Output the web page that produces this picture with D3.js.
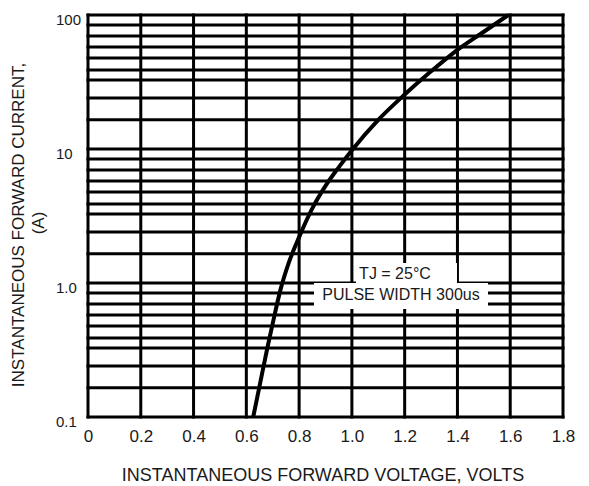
<!DOCTYPE html>
<html>
<head>
<meta charset="utf-8">
<script src="https://cdn.jsdelivr.net/npm/d3@7"></script>
<style>
  body { margin: 0; background: #fff; }
  text { font-family: "Liberation Sans", Arial, sans-serif; fill: #1a1a1a; }
</style>
</head>
<body>
<script>
// forward curve
var voltage = [0.626, 0.65, 0.68, 0.70, 0.73, 0.76, 0.80, 0.85, 0.90, 0.95, 1.00, 1.10, 1.20, 1.30, 1.40, 1.50, 1.593]
var current = [0.1, 0.17, 0.33, 0.5, 0.9, 1.4, 2.2, 3.6, 5.3, 7.3, 9.8, 16.5, 25.5, 38, 55, 75, 100]

var xTicks = [0, 0.2, 0.4, 0.6, 0.8, 1.0, 1.2, 1.4, 1.6, 1.8]
var xTickLabels = ['0', '0.2', '0.4', '0.6', '0.8', '1.0', '1.2', '1.4', '1.6', '1.8']
var yTicks = [0.1, 1, 10, 100]
var yTickLabels = ['0.1', '1.0', '10', '100']
// the grid in the sheet is not a true log grid, these are where its lines sit in each decade
var decadeGrid = [1.65, 2.4, 3.27, 3.89, 4.78, 5.77, 6.97, 8.42]

var W = 589, H = 486
var plot = { left: 88, right: 563, top: 15, bottom: 417 }

var svg = d3.select('body').append('svg')
	.attr('width', W)
	.attr('height', H)

var x = d3.scaleLinear().domain([0, 1.8]).range([plot.left, plot.right])
var y = d3.scaleLog().domain([0.1, 100]).range([plot.bottom, plot.top])

var hLines = []
yTicks.forEach(function(t){
	hLines.push(t)
	if(t < 100) decadeGrid.forEach(function(f){ hLines.push(t * f) })
})

var grid = svg.append('g').attr('class', 'grid')
grid.selectAll('.h').data(hLines).enter().append('line')
	.attr('x1', plot.left - 1.5).attr('x2', plot.right + 1.5)
	.attr('y1', function(d){ return y(d) })
	.attr('y2', function(d){ return y(d) })
	.attr('stroke', '#000')
	.attr('stroke-width', 3)
grid.selectAll('.v').data(xTicks).enter().append('line')
	.attr('x1', function(d){ return x(d) })
	.attr('x2', function(d){ return x(d) })
	.attr('y1', plot.top - 1.5).attr('y2', plot.bottom + 1.5)
	.attr('stroke', '#000')
	.attr('stroke-width', 3)

// note boxes knock the grid out
var notes = svg.append('g')
notes.append('rect')
	.attr('x', 356).attr('y', 263).attr('width', 101).attr('height', 21)
	.attr('fill', '#fff')
notes.append('rect')
	.attr('x', 314).attr('y', 283).attr('width', 174).attr('height', 26)
	.attr('fill', '#fff')
notes.append('text')
	.attr('x', 395).attr('y', 279)
	.attr('text-anchor', 'middle')
	.attr('font-size', 16)
	.text('TJ = 25°C')
notes.append('text')
	.attr('x', 401).attr('y', 300)
	.attr('text-anchor', 'middle')
	.attr('font-size', 16)
	.text('PULSE WIDTH 300us')

var pts = voltage.map(function(v, i){ return [v, current[i]] })
var line = d3.line()
	.x(function(d){ return x(d[0]) })
	.y(function(d){ return y(d[1]) })
	.curve(d3.curveMonotoneX)
svg.append('path')
	.datum(pts)
	.attr('d', line)
	.attr('fill', 'none')
	.attr('stroke', '#000')
	.attr('stroke-width', 4)

// x tick labels
var xAxis = d3.axisBottom(x)
	.tickValues(xTicks)
	.tickSize(0)
	.tickPadding(0)
	.tickFormat(function(d, i){ return xTickLabels[i] })
var gx = svg.append('g')
	.attr('transform', 'translate(0,' + 442 + ')')
	.call(xAxis)
gx.select('.domain').remove()
gx.selectAll('text')
	.attr('font-size', 17)
	.attr('font-family', '"Liberation Sans", Arial, sans-serif')
	.attr('fill', '#1a1a1a')
	.attr('dy', 0)

// y tick labels
svg.selectAll('.ylab').data(yTicks).enter().append('text')
	.attr('x', 56)
	.attr('y', function(d){ return y(d) + 10 })
	.attr('font-size', 15)
	.text(function(d, i){ return yTickLabels[i] })

svg.append('text')
	.attr('x', 323).attr('y', 481)
	.attr('text-anchor', 'middle')
	.attr('font-size', 18)
	.text('INSTANTANEOUS FORWARD VOLTAGE, VOLTS')

svg.append('text')
	.attr('transform', 'translate(24,225) rotate(-90)')
	.attr('text-anchor', 'middle')
	.attr('font-size', 17)
	.text('INSTANTANEOUS FORWARD CURRENT,')
svg.append('text')
	.attr('transform', 'translate(44,223) rotate(-90)')
	.attr('text-anchor', 'middle')
	.attr('font-size', 17)
	.text('(A)')
</script>
</body>
</html>
